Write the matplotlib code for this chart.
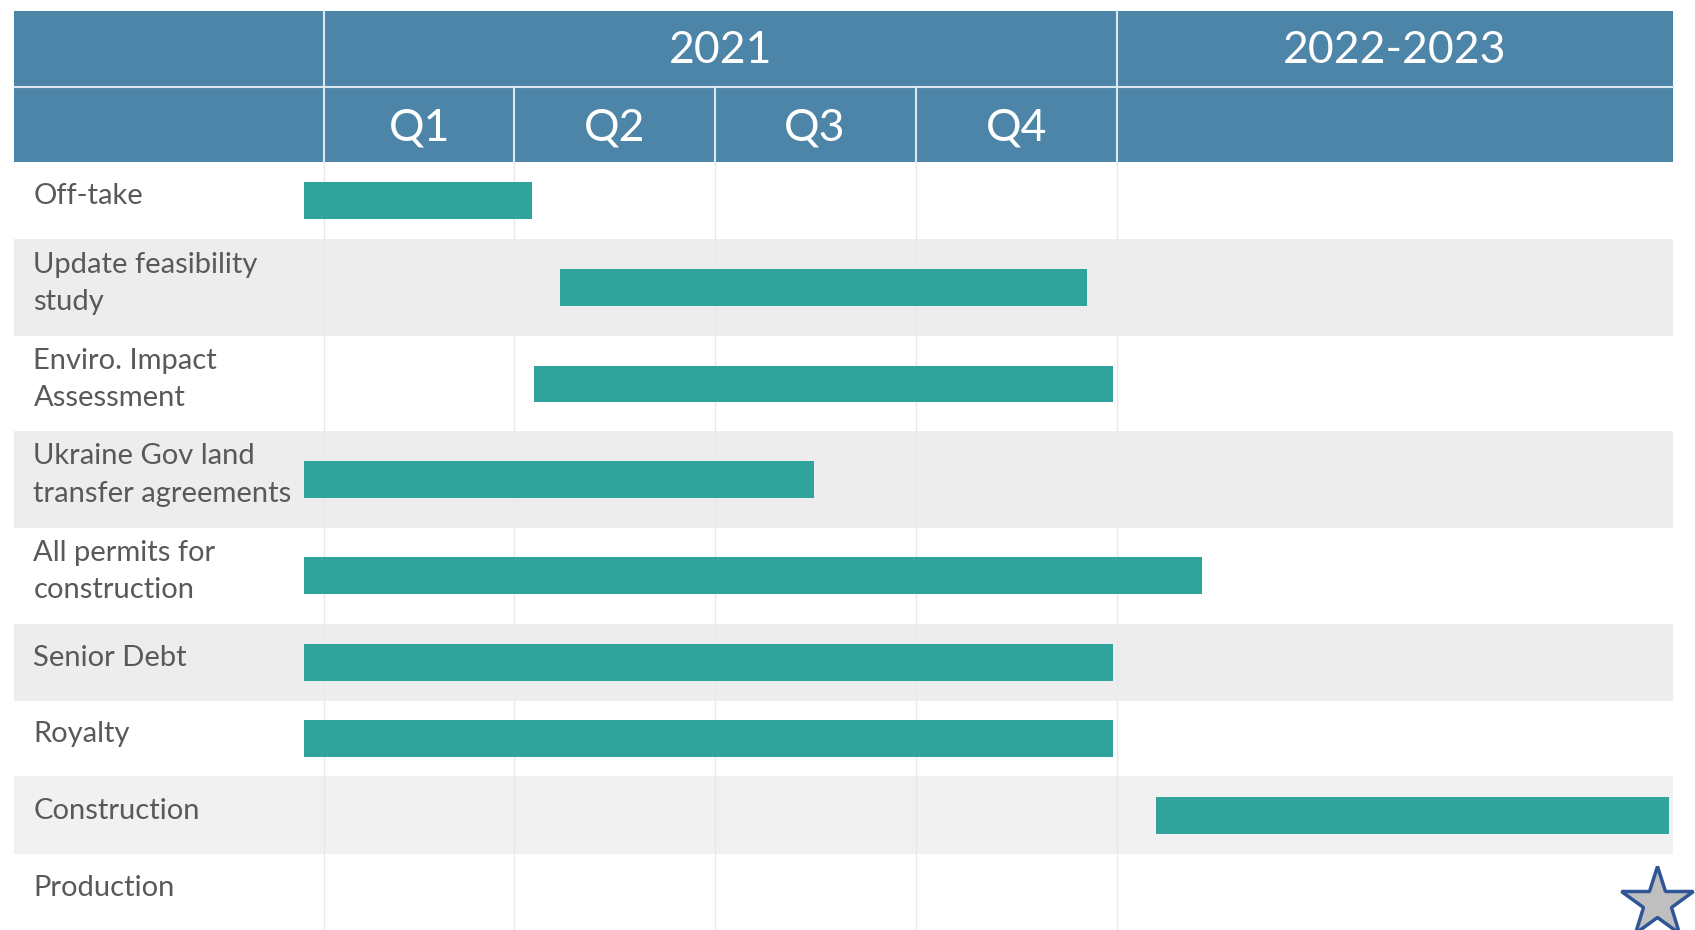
import matplotlib.pyplot as plt
from matplotlib.patches import Rectangle

plt.rcParams['font.family'] = ['Lato', 'DejaVu Sans']

# tasks, top to bottom; start/end in quarters from the start of 2021
tasks = ['Off-take', 'Update feasibility\nstudy', 'Enviro. Impact\nAssessment',
         'Ukraine Gov land\ntransfer agreements', 'All permits for\nconstruction',
         'Senior Debt', 'Royalty', 'Construction', 'Production']
starts = [-0.10, 1.19, 1.06, -0.10, -0.10, -0.10, -0.10, 4.20, None]
ends = [1.05, 3.85, 3.98, 2.47, 4.43, 3.98, 3.98, 6.79, None]
milestone_x = 6.73  # production star

quarters = ['Q1', 'Q2', 'Q3', 'Q4']
quarter_edges = [0, 0.96, 1.97, 2.985, 4]
periods = ['2021', '2022-2023']
period_span = [(0, 4), (4, 6.81)]

# layout (vertical in px of an 860 high canvas)
row_h = [71, 90, 88, 89, 89, 71, 70, 72, 70]
row_bg = ['white', '#ededed', 'white', '#ededed', 'white', '#ededed', 'white', '#f1f1f1', 'white']
top, head_h = 10, 70
label_left = -1.566
right = 6.81

header_c = '#4d85a8'
bar_c = '#30a39c'
text_c = '#595959'

fig = plt.figure(figsize=(16.95, 9.3), dpi=100)
ax = fig.add_axes([0, 0, 1, 1])
ax.set_xlim(-300 / 183.25, (1568 - 300) / 183.25)
ax.set_ylim(860, 0)
ax.axis('off')

# header
for r in range(2):
    y0 = top + r * head_h
    ax.add_patch(Rectangle((label_left, y0), right - label_left, head_h,
                           fc=header_c, ec='none', zorder=1))
for p, (a, b) in zip(periods, period_span):
    ax.text((a + b) / 2, top + head_h / 2 + 2, p, ha='center', va='center',
            color='white', fontsize=32)
for i, q in enumerate(quarters):
    xm = (quarter_edges[i] + quarter_edges[i + 1]) / 2
    ax.text(xm, top + head_h * 1.5 + 3, q, ha='center', va='center',
            color='white', fontsize=32)
hl = dict(color='#dde6ec', lw=1.5, zorder=2)
ax.plot([label_left, right], [top + head_h] * 2, **hl)
ax.plot([0, 0], [top, top + 2 * head_h], **hl)
ax.plot([4, 4], [top, top + 2 * head_h], **hl)
for x in quarter_edges[1:4]:
    ax.plot([x, x], [top + head_h, top + 2 * head_h], **hl)

# body rows
y = top + 2 * head_h
centers = []
for h, bg in zip(row_h, row_bg):
    ax.add_patch(Rectangle((label_left, y), right - label_left, h,
                           fc=bg, ec='none', zorder=0))
    centers.append(y + h / 2)
    y += h
body_top, body_bot = top + 2 * head_h, y
for x in quarter_edges:
    ax.plot([x, x], [body_top, body_bot], color='#e9e9e9', lw=1, zorder=0.5)

for name, c in zip(tasks, centers):
    ax.text(-1.468, c - 4, name, ha='left', va='center', color=text_c,
            fontsize=21, linespacing=1.55)

bar_w = [e - s if s is not None else 0 for s, e in zip(starts, ends)]
left = [s if s is not None else 0 for s in starts]
ax.barh(centers, bar_w, left=left, height=34, color=bar_c, zorder=3)

ax.plot(milestone_x, centers[-1] + 10, marker='*', ms=54, mfc='#bfbfbf',
        mec='#2f5597', mew=2.5, zorder=4, clip_on=False)

fig.savefig('out.png', dpi=100)
